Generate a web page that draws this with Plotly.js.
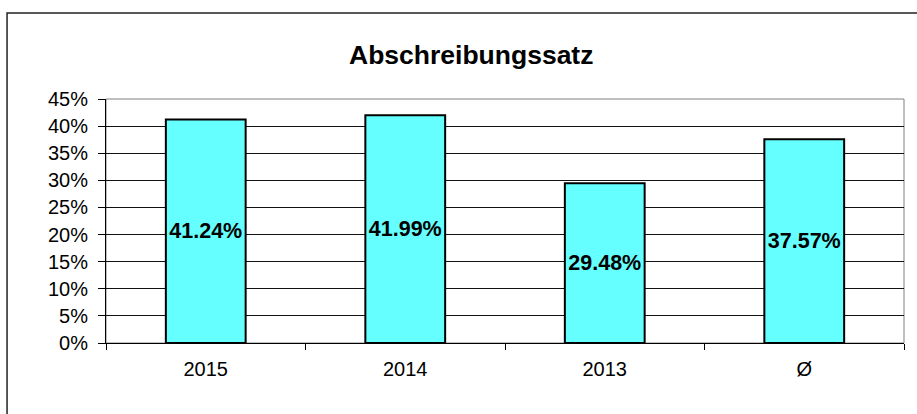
<!DOCTYPE html>
<html>
<head>
<meta charset="utf-8">
<script src="https://cdn.plot.ly/plotly-3.0.1.min.js"></script>
<style>html,body{margin:0;padding:0;background:#fff;}#chart{width:917px;height:414px;}</style>
</head>
<body>
<div id="chart"></div>
<script>
var categories = ["2015", "2014", "2013", "Ø"];
var values = [41.24, 41.99, 29.48, 37.57];
var labels = ["41.24%", "41.99%", "29.48%", "37.57%"];
var tickVals = [0, 5, 10, 15, 20, 25, 30, 35, 40, 45];
var tickText = ["0%", "5%", "10%", "15%", "20%", "25%", "30%", "35%", "40%", "45%"];

var FONT = "Liberation Sans, Arial, sans-serif";

var trace = {
  type: "bar",
  x: categories,
  y: values,
  text: labels,
  textposition: "inside",
  insidetextanchor: "middle",
  constraintext: "none",
  textangle: 0,
  textfont: {family: FONT, size: 21.5, color: "#000", weight: "bold"},
  marker: {color: "#66FFFF", line: {color: "#000", width: 2}},
  hoverinfo: "none",
  cliponaxis: false
};

var layout = {
  width: 917, height: 414,
  margin: {l: 106, r: 13, t: 99, b: 71, pad: 0},
  paper_bgcolor: "#fff", plot_bgcolor: "#fff",
  showlegend: false,
  bargap: 0.6,
  font: {family: FONT, color: "#000"},
  xaxis: {
    type: "category",
    tickson: "boundaries",
    ticks: "outside", ticklen: 6, tickcolor: "#000", tickwidth: 1,
    showline: true, linecolor: "#000", linewidth: 1,
    showgrid: false, zeroline: false,
    tickfont: {family: FONT, size: 20, color: "#000"},
    ticklabelstandoff: 8,
    fixedrange: true
  },
  yaxis: {
    range: [0, 45],
    tickvals: tickVals, ticktext: tickText,
    ticks: "outside", ticklen: 7, tickcolor: "#000", tickwidth: 1,
    showline: true, linecolor: "#000", linewidth: 1,
    showgrid: true, gridcolor: "#111", gridwidth: 1,
    zeroline: false,
    tickfont: {family: FONT, size: 20, color: "#000"},
    ticklabelstandoff: 6,
    fixedrange: true
  },
  shapes: [
    {type: "rect", xref: "paper", yref: "paper", x0: 0, x1: 1, y0: 0, y1: 1,
     line: {color: "#808080", width: 1}, fillcolor: "rgba(0,0,0,0)", layer: "below"},
    {type: "rect", xref: "paper", yref: "paper", x0: -0.124, x1: 1.5, y0: -1, y1: 1.352,
     line: {color: "#222", width: 1.5}, fillcolor: "rgba(0,0,0,0)", layer: "below"}
  ],
  annotations: [
    {text: "<b>Abschreibungssatz</b>", xref: "paper", yref: "paper", x: 0.458, y: 1.18,
     xanchor: "center", yanchor: "middle", showarrow: false,
     font: {family: FONT, size: 26.5, color: "#000"}}
  ]
};

Plotly.newPlot("chart", [trace], layout, {displayModeBar: false, staticPlot: true});
</script>
</body>
</html>
